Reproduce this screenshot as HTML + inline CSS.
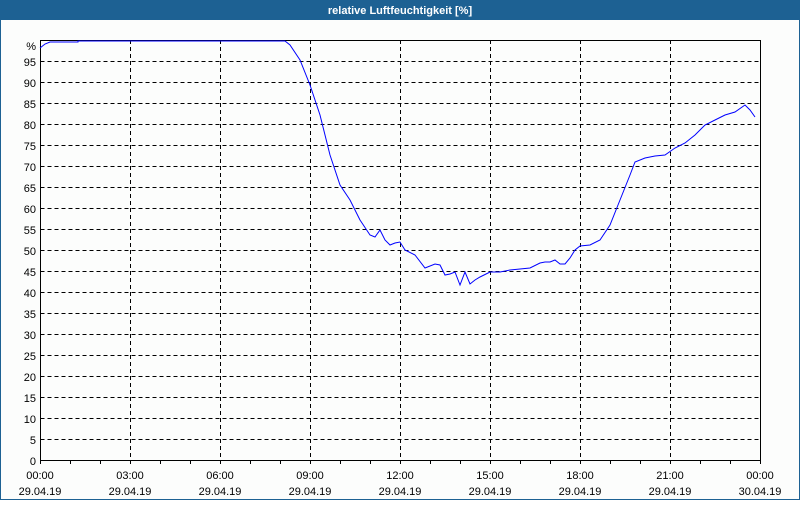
<!DOCTYPE html>
<html><head><meta charset="utf-8"><style>
body{margin:0;width:800px;height:500px;overflow:hidden;background:#fff}
</style></head><body>
<svg width="800" height="500" xmlns="http://www.w3.org/2000/svg" font-family="Liberation Sans, sans-serif" font-size="11">
<rect x="0" y="0" width="800" height="500" fill="#1d6193"/>
<rect x="1" y="20" width="798" height="479" fill="#fcfdfc"/>
<text x="400" y="14" fill="#fff" font-weight="bold" text-anchor="middle" font-size="11">relative Luftfeuchtigkeit [%]</text>
<g stroke="#000" stroke-dasharray="4,3" stroke-width="1">
<path d="M40.5 61.5H760M40.5 82.5H760M40.5 103.5H760M40.5 124.5H760M40.5 145.5H760M40.5 166.5H760M40.5 187.5H760M40.5 208.5H760M40.5 229.5H760M40.5 250.5H760M40.5 271.5H760M40.5 292.5H760M40.5 313.5H760M40.5 334.5H760M40.5 355.5H760M40.5 376.5H760M40.5 397.5H760M40.5 418.5H760M40.5 439.5H760"/>
<path d="M130.5 40V460M220.5 40V460M310.5 40V460M400.5 40V460M490.5 40V460M580.5 40V460M670.5 40V460"/>
</g>
<rect x="40.5" y="40.5" width="720" height="420" fill="none" stroke="#000"/>
<g stroke="#000">
<path d="M70.5 460v4M100.5 460v4M160.5 460v4M190.5 460v4M250.5 460v4M280.5 460v4M340.5 460v4M370.5 460v4M430.5 460v4M460.5 460v4M520.5 460v4M550.5 460v4M610.5 460v4M640.5 460v4M700.5 460v4M730.5 460v4M40.5 460v4M130.5 460v4M220.5 460v4M310.5 460v4M400.5 460v4M490.5 460v4M580.5 460v4M670.5 460v4M760.5 460v4"/>
</g>
<polyline fill="none" stroke="#0000ff" stroke-width="1" points="40,48 45,44 50,42 78,42 78,41 200,41 285,41 290,45 300,60 310,85 320,115 330,155 340,185 350,200 360,220 370,235 375,237 380,230 385,240 390,245 395,243 400,242 405,250 415,255 425,268 435,264 440,265 445,275 450,274 455,272 460,285 465,272 470,284 475,280 480,277 490,272 500,272 510,270 520,269 530,268 540,263 545,262 550,262 555,260 560,264 565,264 570,258 575,250 580,246 590,245 600,240 610,225 620,200 630,175 635,162 645,158 655,156 665,155 675,148 685,143 695,135 705,125 715,120 725,115 735,112 745,105 750,110 755,117"/>
<g text-anchor="end" fill="#000">
<text x="36" y="50">%</text><text x="36" y="66">95</text><text x="36" y="87">90</text><text x="36" y="108">85</text><text x="36" y="129">80</text><text x="36" y="150">75</text><text x="36" y="171">70</text><text x="36" y="192">65</text><text x="36" y="213">60</text><text x="36" y="234">55</text><text x="36" y="255">50</text><text x="36" y="276">45</text><text x="36" y="297">40</text><text x="36" y="318">35</text><text x="36" y="339">30</text><text x="36" y="360">25</text><text x="36" y="381">20</text><text x="36" y="402">15</text><text x="36" y="423">10</text><text x="36" y="444">5</text><text x="36" y="465">0</text>
</g>
<g text-anchor="middle" fill="#000">
<text x="40" y="479">00:00</text><text x="40" y="495">29.04.19</text>
<text x="130" y="479">03:00</text><text x="130" y="495">29.04.19</text>
<text x="220" y="479">06:00</text><text x="220" y="495">29.04.19</text>
<text x="310" y="479">09:00</text><text x="310" y="495">29.04.19</text>
<text x="400" y="479">12:00</text><text x="400" y="495">29.04.19</text>
<text x="490" y="479">15:00</text><text x="490" y="495">29.04.19</text>
<text x="580" y="479">18:00</text><text x="580" y="495">29.04.19</text>
<text x="670" y="479">21:00</text><text x="670" y="495">29.04.19</text>
<text x="760" y="479">00:00</text><text x="760" y="495">30.04.19</text>
</g>
</svg>
</body></html>
